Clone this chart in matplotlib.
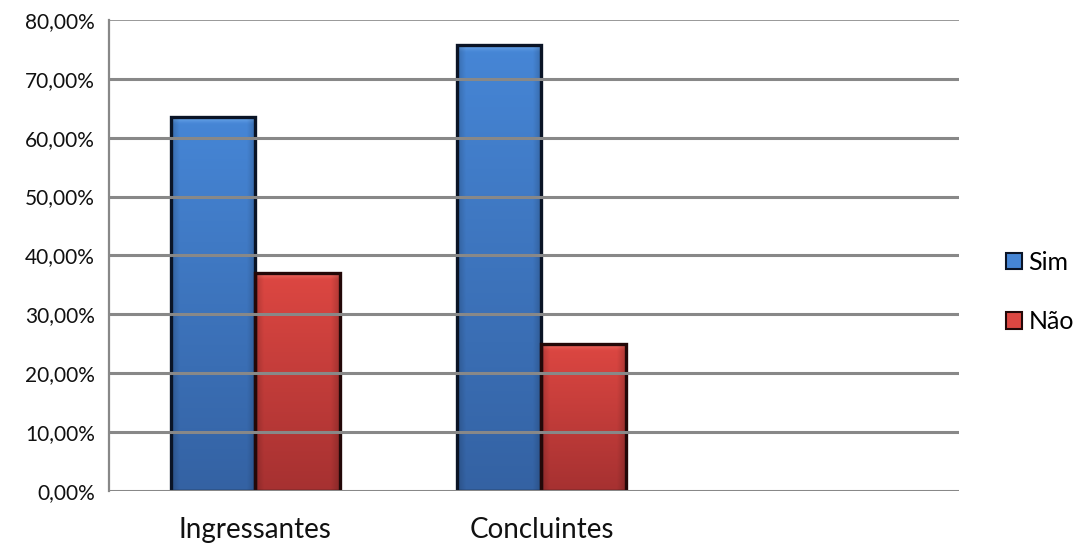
import numpy as np
import matplotlib
matplotlib.use("Agg")
import matplotlib.pyplot as plt
from matplotlib.patches import Patch

plt.rcParams['font.family'] = ['Lato', 'DejaVu Sans']

# Data
categorias = ["Ingressantes", "Concluintes"]
series = ["Sim", "Não"]
sim = [63.5, 75.8]
nao = [37.0, 24.9]
yticks = [0, 10, 20, 30, 40, 50, 60, 70, 80]
ytick_labels = [f"{v:.2f}".replace(".", ",") + "%" for v in yticks]

# Bar colours: (top highlight, top, bottom, edge)
estilo = {
    "Sim": ("#7ab3f2", "#4686d6", "#3462a3", "#0a1426"),
    "Não": ("#f27c72", "#dd4742", "#a63131", "#230808"),
}

W, H, DPI = 1083, 543, 100
fig = plt.figure(figsize=(W / DPI, H / DPI), dpi=DPI)
fig.patch.set_facecolor("white")
ax = fig.add_axes([108.7 / W, 1 - 490.7 / H, (958.5 - 108.7) / W, (490.7 - 20) / H])

x = np.arange(len(categorias))
w = 0.295
px_per_unit = (490.7 - 20) / 80.0


def hex2rgb(h):
    h = h.lstrip("#")
    return np.array([int(h[i:i + 2], 16) / 255 for i in (0, 2, 4)])


def gradient_fill(patch, nome):
    hi, top, bot, _ = [hex2rgb(c) for c in estilo[nome]]
    x0, y0 = patch.get_x(), patch.get_y()
    bw, bh = patch.get_width(), patch.get_height()
    n, m = 300, 60
    t = np.linspace(1, 0, n)[:, None]  # 1 at top row
    base = bot + (top - bot) * t[..., None]
    base = np.broadcast_to(base, (n, m, 3)).copy()
    # thin light band just under the top edge
    bar_px = bh * px_per_unit
    band = 7.0 / max(bar_px, 1)
    d = (1 - t)  # distance from top (fraction)
    k = np.clip(1 - d / band, 0, 1)[..., None] ** 1.5
    base = base * (1 - 0.8 * k) + hi * 0.8 * k
    # slight darkening toward left/right sides
    s = np.linspace(-1, 1, m)[None, :, None]
    shade = 1 - 0.18 * np.clip((np.abs(s) - 0.8) / 0.2, 0, 1)
    base = np.clip(base * shade, 0, 1)
    im = ax.imshow(base, extent=[x0, x0 + bw, y0, y0 + bh], aspect="auto",
                   interpolation="bilinear", zorder=2.5)
    im.set_clip_path(patch)


for valores, offset, nome in ((sim, -w / 2, "Sim"), (nao, w / 2, "Não")):
    bars = ax.bar(x + offset, valores, w, color=estilo[nome][1],
                  edgecolor=estilo[nome][3], linewidth=2.4, zorder=3)
    for b in bars:
        gradient_fill(b, nome)
        b.set_facecolor("none")

# Horizontal grid drawn over the bars
for v in yticks:
    ax.axhline(v, color="#888888", lw=1.2 if v == 80 else 2.2, zorder=4,
               solid_capstyle="butt")

ax.set_xlim(-0.5115, 2.457)
ax.set_ylim(0, 80)
for s in ("top", "right", "bottom"):
    ax.spines[s].set_visible(False)
ax.spines["left"].set_color("#888888")
ax.spines["left"].set_linewidth(1.6)

ax.set_yticks(yticks)
ax.set_yticklabels(ytick_labels, fontsize=15, color="#111111")
ax.set_xticks(x)
ax.set_xticklabels(categorias, fontsize=20, color="#111111")
ax.tick_params(axis="y", length=0, pad=10)
ax.tick_params(axis="x", length=0, pad=19)

handles = [Patch(facecolor=estilo[n][1], edgecolor=estilo[n][3], linewidth=1.5)
           for n in series]
fig.legend(handles, series, loc="center left",
           bbox_to_anchor=(1006 / W, 1 - 292 / H), frameon=False,
           fontsize=18, handlelength=0.65, handleheight=0.65,
           handletextpad=0.25, labelspacing=1.45, borderpad=0,
           borderaxespad=0)

fig.savefig("out.png", dpi=DPI, facecolor="white")
